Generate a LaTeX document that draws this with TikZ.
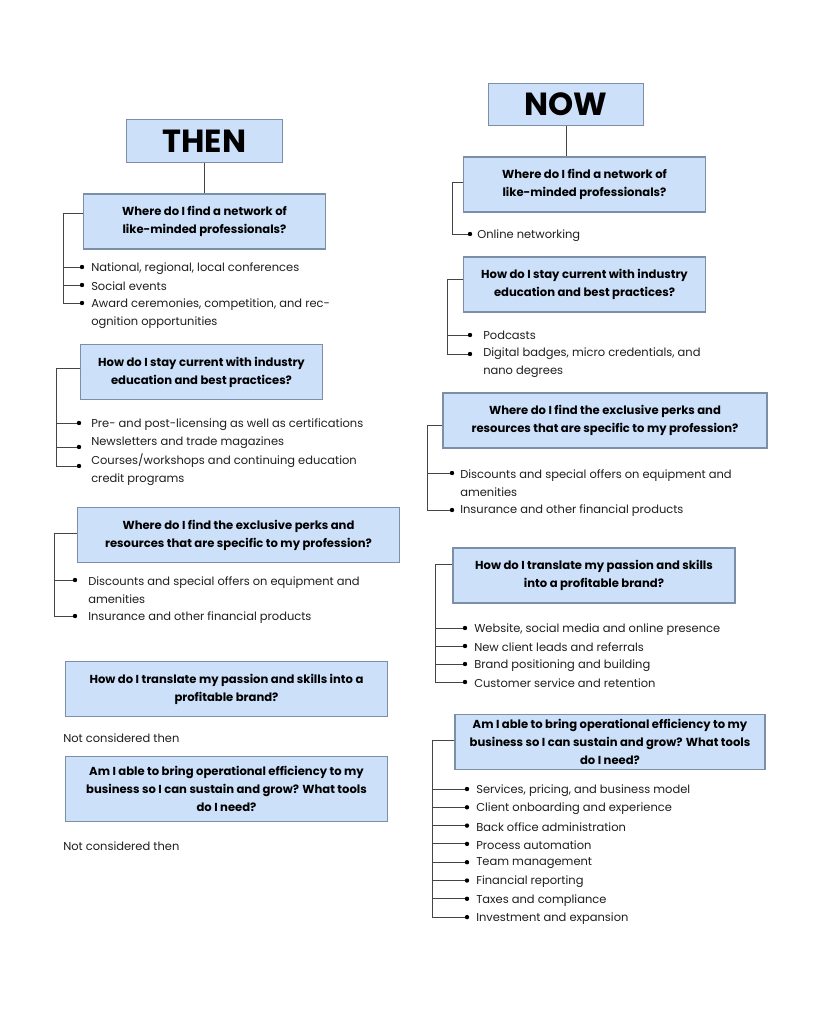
\documentclass[tikz,border=0pt]{standalone}
\usepackage{fontspec}
\setmainfont{Poppins}
\usepackage{tikz}
\usetikzlibrary{positioning}
\definecolor{boxfill}{HTML}{CCE0FA}
\definecolor{boxline}{HTML}{7D8FA6}
\definecolor{linkgray}{HTML}{454545}
\definecolor{textgray}{HTML}{1E1E1E}
\tikzset{
    era/.style={draw=boxline, fill=boxfill, line width=0.8pt,
        minimum width=116.5pt, minimum height=32pt, inner sep=0pt,
        font=\bfseries\fontsize{24}{26}\selectfont},
    question/.style={draw=boxline, fill=boxfill, line width=0.8pt,
        minimum width=#1, minimum height=41.25pt, inner sep=0pt,
        align=center, font=\bfseries\fontsize{8.7}{13.5}\selectfont},
    tall/.style={minimum height=49pt},
    item/.style={anchor=west, inner sep=0pt, align=left, text=textgray,
        yshift=-1pt, font=\fontsize{8.6}{13.5}\selectfont},
    dot/.style={circle, fill=black, inner sep=0pt, minimum size=3.3pt},
    link/.style={draw=linkgray, line width=0.7pt}
}

\begin{document}
\begin{tikzpicture}[x=0.75pt, y=-0.75pt]
    \useasboundingbox (0,0) rectangle (831,1024);

    % then
    \node[era] (then) at (204.5,141) {THEN};
    \node[question=181pt] (lq1) at (204.5,221.5) {Where do I find a network of\\like-minded professionals?};
    \node[question=181pt] (lq2) at (201.5,372) {How do I stay current with industry\\education and best practices?};
    \node[question=242pt] (lq3) at (238.5,535) {Where do I find the exclusive perks and\\resources that are specific to my profession?};
    \node[question=242pt] (lq4) at (226.5,689) {How do I translate my passion and skills into a\\profitable brand?};
    \node[question=242pt, tall] (lq5) at (226.5,789) {Am I able to bring operational efficiency to my\\business so I can sustain and grow? What tools\\do I need?};

    \node[dot] (ld11) at (82,267) {};
    \node[dot] (ld12) at (82,285) {};
    \node[dot] (ld13) at (82,303) {};
    \node[item] (lt11) at (91,267) {National, regional, local conferences};
    \node[item] (lt12) at (91,285) {Social events};
    \node[item] (lt13) at (91,312) {Award ceremonies, competition, and rec-\\ognition opportunities};

    \node[dot] (ld21) at (79,423) {};
    \node[dot] (ld22) at (79,447) {};
    \node[dot] (ld23) at (79,466) {};
    \node[item] (lt21) at (91,423) {Pre- and post-licensing as well as certifications};
    \node[item] (lt22) at (91,441) {Newsletters and trade magazines};
    \node[item] (lt23) at (91,468.5) {Courses/workshops and continuing education\\credit programs};

    \node[dot] (ld31) at (75,580) {};
    \node[dot] (ld32) at (75,616) {};
    \node[item] (lt31) at (88,589) {Discounts and special offers on equipment and\\amenities};
    \node[item] (lt32) at (88,616) {Insurance and other financial products};

    \node[item] (lt4) at (63,737) {Not considered then};
    \node[item] (lt5) at (63,845) {Not considered then};

    \coordinate (lb1) at (63,213);
    \coordinate (lb2) at (56,368);
    \coordinate (lb3) at (54,533);

    \draw[link] (then) -- (lq1);
    \draw[link] (lb1 -| lq1.west) -- (lb1);
    \draw[link] (lb2 -| lq2.west) -- (lb2);
    \draw[link] (lb3 -| lq3.west) -- (lb3);
    \foreach \d in {ld11,ld12,ld13} \draw[link] (lb1) |- (\d);
    \foreach \d in {ld21,ld22,ld23} \draw[link] (lb2) |- (\d);
    \foreach \d in {ld31,ld32} \draw[link] (lb3) |- (\d);

    % now
    \node[era] (now) at (566,104.5) {NOW};
    \node[question=182pt] (rq1) at (584.5,184.5) {Where do I find a network of\\like-minded professionals?};
    \node[question=182pt] (rq2) at (584.5,284.5) {How do I stay current with industry\\education and best practices?};
    \node[question=243pt] (rq3) at (605,420.5) {Where do I find the exclusive perks and\\resources that are specific to my profession?};
    \node[question=211.5pt] (rq4) at (594,575.5) {How do I translate my passion and skills\\into a profitable brand?};
    \node[question=232.5pt] (rq5) at (610,742) {Am I able to bring operational efficiency to my\\business so I can sustain and grow? What tools\\do I need?};

    \node[dot] (rd11) at (470,234) {};
    \node[item] (rt11) at (477,234) {Online networking};

    \node[dot] (rd21) at (470,335) {};
    \node[dot] (rd22) at (470,354) {};
    \node[item] (rt21) at (483,334) {Podcasts};
    \node[item] (rt22) at (483,361) {Digital badges, micro credentials, and\\nano degrees};

    \node[dot] (rd31) at (452,473) {};
    \node[dot] (rd32) at (452,510) {};
    \node[item] (rt31) at (460,482) {Discounts and special offers on equipment and\\amenities};
    \node[item] (rt32) at (460,509) {Insurance and other financial products};

    \node[dot] (rd41) at (465,628) {};
    \node[dot] (rd42) at (465,646) {};
    \node[dot] (rd43) at (465,664) {};
    \node[dot] (rd44) at (465,682) {};
    \node[item] (rt41) at (474,628) {Website, social media and online presence};
    \node[item] (rt42) at (474,646) {New client leads and referrals};
    \node[item] (rt43) at (474,664) {Brand positioning and building};
    \node[item] (rt44) at (474,682) {Customer service and retention};

    \foreach \t [count=\i] in {{Services, pricing, and business model},
        Client onboarding and experience, Back office administration,
        Process automation, Team management, Financial reporting,
        Taxes and compliance, Investment and expansion} {
        \node[dot] (rd5\i) at (467,{789+18.3*(\i-1)}) {};
        \node[item] (rt5\i) at (476,{789+18.3*(\i-1)}) {\t};
    }

    \coordinate (rb1) at (452,182);
    \coordinate (rb2) at (447,279);
    \coordinate (rb3) at (427,425);
    \coordinate (rb4) at (435,564);
    \coordinate (rb5) at (432,740);

    \draw[link] (now) -- (now |- rq1.north);
    \draw[link] (rb1 -| rq1.west) -- (rb1);
    \draw[link] (rb2 -| rq2.west) -- (rb2);
    \draw[link] (rb3 -| rq3.west) -- (rb3);
    \draw[link] (rb4 -| rq4.west) -- (rb4);
    \draw[link] (rb5 -| rq5.west) -- (rb5);
    \draw[link] (rb1) |- (rd11);
    \foreach \d in {rd21,rd22} \draw[link] (rb2) |- (\d);
    \foreach \d in {rd31,rd32} \draw[link] (rb3) |- (\d);
    \foreach \d in {rd41,rd42,rd43,rd44} \draw[link] (rb4) |- (\d);
    \foreach \i in {1,...,8} \draw[link] (rb5) |- (rd5\i);
\end{tikzpicture}
\end{document}
